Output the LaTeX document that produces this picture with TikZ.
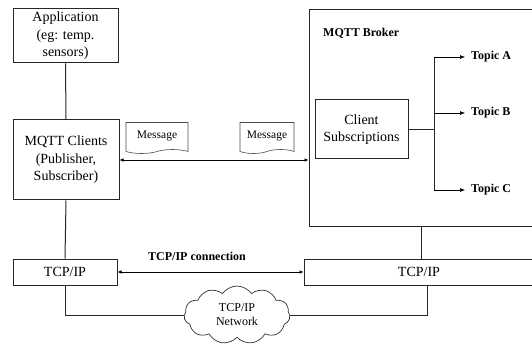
\documentclass[tikz,border=0pt]{standalone}
\usepackage{fontspec}
\setmainfont{Liberation Serif}
\usetikzlibrary{shapes.symbols,arrows.meta}

\begin{document}
\begin{tikzpicture}[x=1pt,y=-1pt,
  box/.style={draw=black!85, line width=1pt, align=center, inner sep=0pt,
    font=\fontsize{14}{17.5}\selectfont},
  lbl/.style={inner sep=0pt, font=\fontsize{12}{14}\selectfont\bfseries},
  msg/.style={draw=black!70, line width=0.6pt, tape, tape bend top=none,
    tape bend height=4pt, inner sep=0pt, font=\fontsize{11.5}{13}\selectfont},
  wire/.style={draw=black!85, line width=1pt},
  arr/.style={-{Latex[length=5pt,width=4pt]}, line width=0.6pt},
  biarr/.style={{Latex[length=4pt,width=3.5pt]}-{Latex[length=4pt,width=3.5pt]}, line width=0.6pt}]
 	\useasboundingbox (0,0) rectangle (532,347);
 	% client side
 	\node [box, minimum width=105pt, minimum height=54pt] (app) at (65.5,36) {Application\\(eg: temp.\\sensors)};
 	\node [box, minimum width=106pt, minimum height=80pt] (clients) at (66,160) {MQTT Clients\\(Publisher,\\Subscriber)};
 	\node [box, minimum width=104pt, minimum height=26pt] (tcpL) at (65,272) {TCP/IP};
 	% broker side
 	\node [box, minimum width=225pt, minimum height=217pt] (broker) at (421.5,118.5) {};
 	\node [lbl, anchor=west] (brokerlbl) at (323,33) {MQTT Broker};
 	\node [box, minimum width=93pt, minimum height=59pt] (subs) at (361.5,129.5) {Client\\Subscriptions};
 	\node [lbl, inner xsep=6pt, anchor=west] (topicA) at (465,57) {Topic A};
 	\node [lbl, inner xsep=6pt, anchor=west] (topicB) at (465,113) {Topic B};
 	\node [lbl, inner xsep=6pt, anchor=west] (topicC) at (465,190) {Topic C};
 	\coordinate (split) at (434,129.5);
 	\node [box, minimum width=230pt, minimum height=26pt] (tcpR) at (419,272) {TCP/IP};
 	% messages and network
 	\node [msg, minimum width=62pt, minimum height=31pt] (msg1) at (157,136) {Message};
 	\node [msg, minimum width=54pt, minimum height=31pt] (msg2) at (267,136) {Message};
 	\node [cloud, draw=black!80, line width=0.7pt, cloud puffs=11, cloud puff arc=110, aspect=1.8,
 	  minimum width=106pt, minimum height=58pt, inner sep=0pt, align=center,
 	  font=\fontsize{12}{14}\selectfont] (net) at (237,315) {TCP/IP\\Network};
 	\node [lbl] (conn) at (197,256) {TCP/IP connection};
 	\coordinate (rdrop) at (427,285);
 	% connectors
 	\draw [wire] (app.south) -- (clients.north);
 	\draw [wire] (clients.south) -- (tcpL.north);
 	\draw [wire] (broker.south) -- (broker.south |- tcpR.north);
 	\draw [biarr] (clients.east) -- (clients.east -| broker.west);
 	\draw [biarr] (tcpL.east) -- (tcpR.west);
 	\draw [wire] (subs.east) -- (split);
 	\draw [wire] (split |- topicA.west) -- (split |- topicC.west);
 	\draw [arr] (split |- topicA.west) -- (topicA.west);
 	\draw [arr] (split |- topicB.west) -- (topicB.west);
 	\draw [arr] (split |- topicC.west) -- (topicC.west);
 	\draw [wire] (tcpL.south) |- (net.west);
 	\draw [wire] (net.east) -| (rdrop);
\end{tikzpicture}
\end{document}
